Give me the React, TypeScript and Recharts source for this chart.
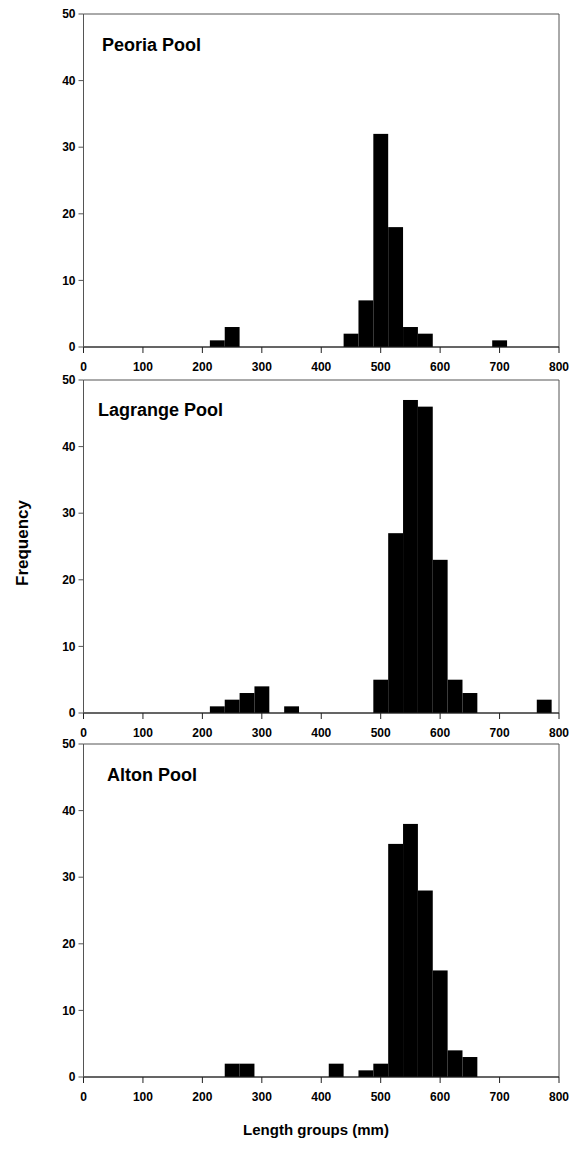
import React from 'react';
import { BarChart, Bar, XAxis, YAxis, ReferenceArea } from 'recharts';

// Length bins (mm, bin centres, 25 mm wide) and counts per pool
const peoriaBins = [225, 250, 450, 475, 500, 525, 550, 575, 700];
const peoriaCounts = [1, 3, 2, 7, 32, 18, 3, 2, 1];

const lagrangeBins = [225, 250, 275, 300, 350, 500, 525, 550, 575, 600, 625, 650, 775];
const lagrangeCounts = [1, 2, 3, 4, 1, 5, 27, 47, 46, 23, 5, 3, 2];

const altonBins = [250, 275, 425, 475, 500, 525, 550, 575, 600, 625, 650];
const altonCounts = [2, 2, 2, 1, 2, 35, 38, 28, 16, 4, 3];

const xTicks = [0, 100, 200, 300, 400, 500, 600, 700, 800];
const yTicks = [0, 10, 20, 30, 40, 50];
const BIN_WIDTH = 25;
const X_MAX = 800;

const FONT = '"Liberation Sans", Arial, sans-serif';

const CHART_W = 572;
const CHART_H = 380;
const PLOT_LEFT = 83.5;
const PLOT_RIGHT_MARGIN = 13;
const PLOT_W = CHART_W - PLOT_LEFT - PLOT_RIGHT_MARGIN;
const BIN_PX = (PLOT_W * BIN_WIDTH) / X_MAX;

const toRows = (bins: number[], counts: number[]) =>
  bins.map((len, i) => ({ len, count: counts[i] }));

const tickStyle = { fontFamily: FONT, fontSize: 12, fontWeight: 700, fill: '#000' };

// histogram bars: keep the library's centre/height, stretch to full bin width
const HistBar = (props: any) => {
  const { x, y, width, height } = props;
  if (!height) return null;
  const cx = x + width / 2;
  return <rect x={cx - BIN_PX / 2} y={y} width={BIN_PX} height={height} fill="#000" />;
};

const Panel: React.FC<{ top: number; bins: number[]; counts: number[] }> = ({ top, bins, counts }) => {
  const data = toRows(bins, counts);
  return (
    <div style={{ position: 'absolute', left: 0, top, width: CHART_W, height: CHART_H }}>
      <BarChart
        width={CHART_W}
        height={CHART_H}
        data={data}
        margin={{ top: 14, right: PLOT_RIGHT_MARGIN, bottom: 0, left: 0 }}
        barCategoryGap={0}
        barGap={0}
      >
        <XAxis
          dataKey="len"
          type="number"
          domain={[0, X_MAX]}
          ticks={xTicks}
          interval={0}
          height={33}
          tickSize={6}
          tickMargin={9}
          tick={tickStyle}
          stroke="#222"
          allowDataOverflow
        />
        <YAxis
          type="number"
          domain={[0, 50]}
          ticks={yTicks}
          interval={0}
          width={PLOT_LEFT}
          tickSize={5}
          tickMargin={3}
          tick={tickStyle}
          stroke="#555"
        />
        <ReferenceArea x1={0} x2={X_MAX} y1={0} y2={50} fill="none" stroke="#555" strokeWidth={1} ifOverflow="visible" />
        <Bar dataKey="count" fill="#000" shape={HistBar} isAnimationActive={false} />
      </BarChart>
    </div>
  );
};

export default function App() {
  return (
    <div style={{ position: 'absolute', left: 0, top: 0, width: 572, height: 1150, background: '#fff' }}>
      <Panel top={0} bins={peoriaBins} counts={peoriaCounts} />
      <Panel top={366} bins={lagrangeBins} counts={lagrangeCounts} />
      <Panel top={730} bins={altonBins} counts={altonCounts} />
      <svg width={572} height={1150} style={{ position: 'absolute', left: 0, top: 0, pointerEvents: 'none' }}>
        <g fontFamily={FONT} fontWeight={700} fill="#000">
          <text x={102} y={51} fontSize={18}>Peoria Pool</text>
          <text x={98} y={416} fontSize={18}>Lagrange Pool</text>
          <text x={107} y={781} fontSize={18}>Alton Pool</text>
          <text x={22} y={543} fontSize={17} textAnchor="middle" dominantBaseline="central" transform="rotate(-90 22 543)">
            Frequency
          </text>
          <text x={316} y={1135} fontSize={15} textAnchor="middle">Length groups (mm)</text>
        </g>
      </svg>
    </div>
  );
}
